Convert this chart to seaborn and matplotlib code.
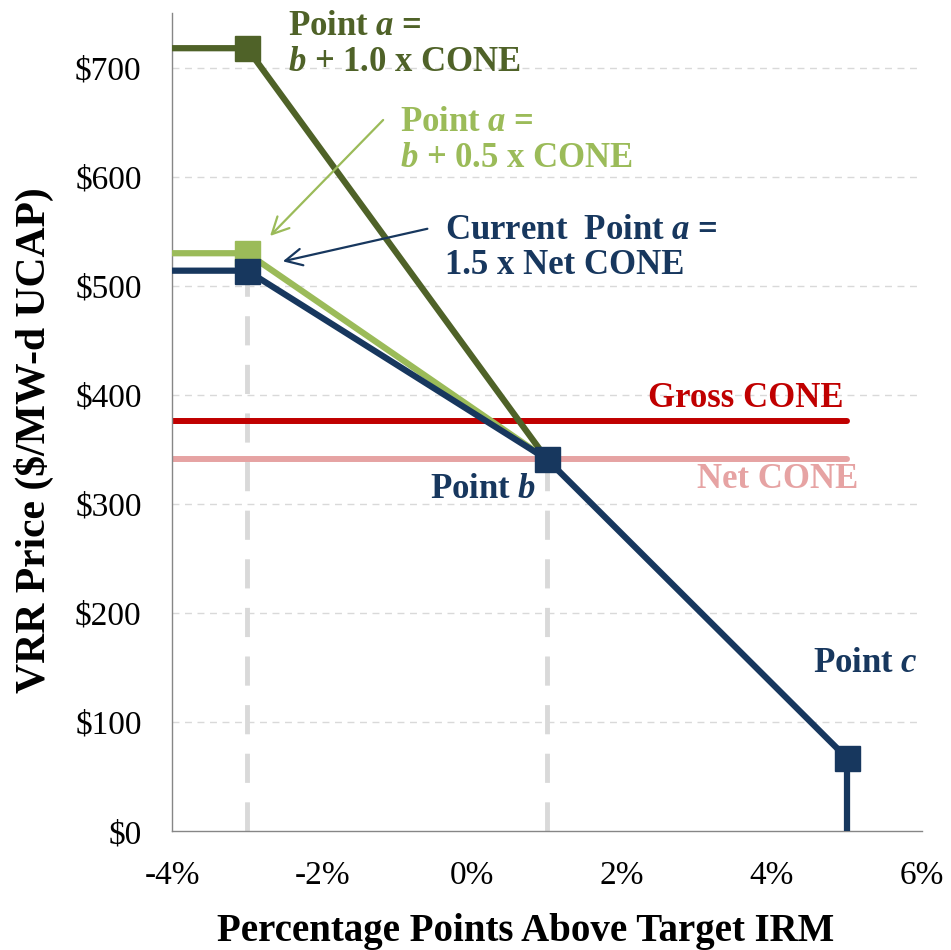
import matplotlib
matplotlib.use("Agg")
import matplotlib.pyplot as plt
import numpy as np
import pandas as pd
import seaborn as sns

# data
x_a10 = [-4, -3, 1]
y_a10 = [718, 718, 341]
x_a05 = [-4, -3, 1]
y_a05 = [530, 530, 341]
x_cur = [-4, -3, 1, 5, 5]
y_cur = [514, 514, 341, 67, 0]
gross_cone = 376
net_cone = 341
cone_x = [-4, 5]
dash_x = [-3, 1]
dash_top = [514, 341]
x_ticks = [-4, -3, -2, -1, 0, 1, 2, 3, 4, 5, 6]
x_labels = ['-4%', '', '-2%', '', '0%', '', '2%', '', '4%', '', '6%']
y_ticks = [0, 100, 200, 300, 400, 500, 600, 700]
y_labels = ['\\$' + str(v) for v in y_ticks]

c_dark = '#4F6228'
c_light = '#9BBB59'
c_navy = '#17375E'
c_red = '#C00000'
c_pink = '#E6A3A3'
c_grey = '#D9D9D9'

sns.set_theme(style='white')
plt.rcParams['font.family'] = ['Liberation Serif', 'DejaVu Serif']
plt.rcParams['mathtext.fontset'] = 'custom'
plt.rcParams['mathtext.rm'] = 'Liberation Serif:bold'
plt.rcParams['mathtext.it'] = 'Liberation Serif:bold:italic'
plt.rcParams['text.color'] = 'black'
plt.rcParams['axes.labelcolor'] = 'black'

fig = plt.figure(figsize=(9.51, 9.5), dpi=100)
ax = fig.add_axes([0.181, 0.125, 0.7885, 0.861])

for v in y_ticks[1:]:
    ax.axhline(v, color=c_grey, lw=1, ls=(0, (5, 4)), zorder=0)

ax.vlines(dash_x, 0, dash_top, colors=c_grey, lw=3.5, ls=(0, (6, 4)), zorder=1)

ax.plot(cone_x, [gross_cone] * 2, color=c_red, lw=4.3, solid_capstyle='round', zorder=2)
ax.plot(cone_x, [net_cone] * 2, color=c_pink, lw=4.3, solid_capstyle='round', zorder=2)

lines = pd.concat([
    pd.DataFrame({'x': x_a10, 'y': y_a10, 's': 'a10'}),
    pd.DataFrame({'x': x_a05, 'y': y_a05, 's': 'a05'}),
    pd.DataFrame({'x': x_cur, 'y': y_cur, 's': 'cur'}),
])
sns.lineplot(data=lines, x='x', y='y', hue='s', palette={'a10': c_dark, 'a05': c_light, 'cur': c_navy},
             estimator=None, sort=False, lw=4.5, legend=False, ax=ax, zorder=3)

ax.plot([x_a10[1]], [y_a10[1]], 's', color=c_dark, ms=18, zorder=4)
ax.plot([x_a05[1]], [y_a05[1]], 's', color=c_light, ms=18, zorder=4)
ax.plot(x_cur[1:4], y_cur[1:4], 's', color=c_navy, ms=18, zorder=5)

ax.set_xlim(-4, 6)
ax.set_ylim(0, 750)
ax.set_xticks(x_ticks)
ax.set_xticklabels(x_labels, fontsize=24)
ax.set_yticks(y_ticks)
ax.set_yticklabels(y_labels, fontsize=24)
ax.tick_params(axis='both', direction='out', length=7, width=1, color='#868686', labelcolor='black')
ax.tick_params(axis='x', pad=14)
ax.tick_params(axis='y', pad=15)
for s in ['top', 'right']:
    ax.spines[s].set_visible(False)
for s in ['left', 'bottom']:
    ax.spines[s].set_color('#868686')
    ax.spines[s].set_linewidth(1)
ax.set_xlabel('Percentage Points Above Target IRM', fontsize=28, fontweight='bold', va='top', color='black')
ax.xaxis.set_label_coords(0.471, -0.100)
ax.set_ylabel('VRR Price (\\$/MW-d UCAP)', fontsize=30, fontweight='bold', color='black')
ax.yaxis.set_label_coords(-0.158, 0.478)

fs = 25
ax.text(-2.45, 753, 'Point $a$ =\n$b$ + 1.0 x CONE', color=c_dark, fontsize=fs, fontweight='bold',
        va='top', ha='left', linespacing=1.1, clip_on=False)
ax.text(-0.96, 665, 'Point $a$ =\n$b$ + 0.5 x CONE', color=c_light, fontsize=fs, fontweight='bold',
        va='top', ha='left', linespacing=1.1)
ax.text(-0.36, 566, 'Current  Point $a$ =\n1.5 x Net CONE', color=c_navy, fontsize=fs, fontweight='bold',
        va='top', ha='left', linespacing=1.1)
ax.annotate('', xy=(-2.72, 544), xytext=(-1.16, 654),
            arrowprops=dict(arrowstyle='->', color=c_light, lw=1.6, mutation_scale=30))
ax.annotate('', xy=(-2.56, 522), xytext=(-0.56, 553),
            arrowprops=dict(arrowstyle='->', color=c_navy, lw=1.6, mutation_scale=30))
ax.text(4.95, 389, 'Gross CONE', color=c_red, fontsize=fs, fontweight='bold', ha='right', va='baseline')
ax.text(5.15, 315, 'Net CONE', color=c_pink, fontsize=fs, fontweight='bold', ha='right', va='baseline')
ax.text(0.86, 306, 'Point $b$', color=c_navy, fontsize=fs, fontweight='bold', ha='right', va='baseline')
ax.text(5.95, 146, 'Point $c$', color=c_navy, fontsize=fs, fontweight='bold', ha='right', va='baseline')

fig.savefig('out.png', dpi=100)
